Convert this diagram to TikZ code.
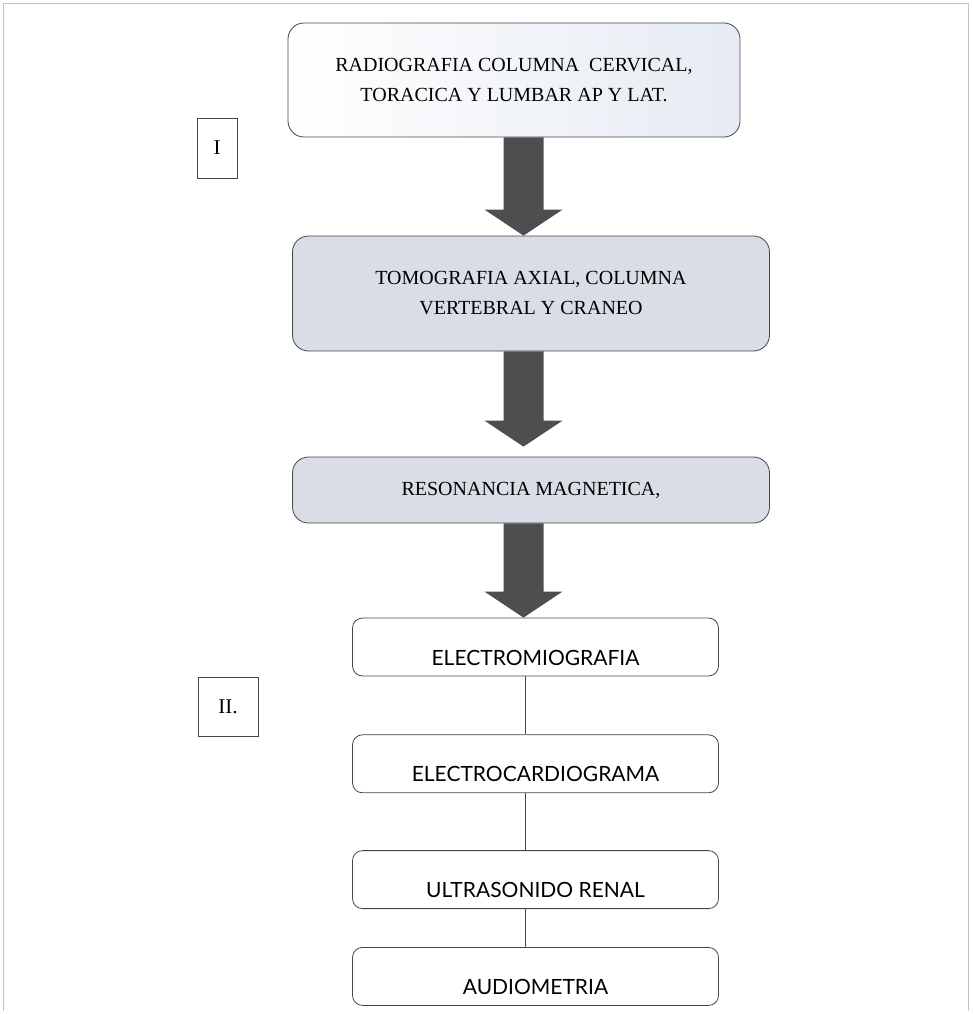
\documentclass[tikz,border=0pt]{standalone}
\usepackage{fontspec}
\setmainfont{Liberation Serif}
\newfontfamily\testfont{Lato}
\usetikzlibrary{calc,positioning}
\definecolor{framegray}{RGB}{195,195,195}
\definecolor{boxgray}{RGB}{216,221,230}
\definecolor{boxblue}{RGB}{230,235,243}
\definecolor{arrowgray}{RGB}{78,78,80}
\definecolor{linegray}{RGB}{70,70,70}

% block arrow from the bottom of #1 down to the top of #2 (tip #3 above it)
\newcommand{\blockarrow}[3]{%
  \coordinate (tip) at ($(#2.north -| ax)+(0,-#3)$);
  \fill[arrowgray] ($(#1.south -| ax)+(-20,0)$) -- ($(tip)+(-20,-26)$) -- ($(tip)+(-39,-26)$)
    -- (tip) -- ($(tip)+(39,-26)$) -- ($(tip)+(20,-26)$) -- ($(#1.south -| ax)+(20,0)$) -- cycle;}

\begin{document}
\begin{tikzpicture}[x=1pt,y=-1pt,
  every node/.style={inner sep=0pt, line width=0.8pt, draw=linegray},
  study/.style={rounded corners=16pt, align=center, font=\fontsize{20}{30}\selectfont},
  test/.style={rounded corners=10pt, minimum width=366pt, text height=47pt, text depth=11pt,
    fill=white, font=\testfont\fontsize{21}{24}\selectfont},
  stage/.style={fill=white, font=\fontsize{21}{24}\selectfont}]
  \useasboundingbox (0,0) rectangle (972,1014);
  \draw[framegray, line width=0.6pt] (3,1011) -- (3,3) -- (968,3) -- (968,1011);

  \coordinate (ax) at (523.5,0);
  \coordinate (lx) at (525,0);

  \node[study, minimum width=452pt, minimum height=114pt, left color=white, right color=boxblue]
    (rx) at (514,80) {RADIOGRAFIA COLUMNA\ \ CERVICAL,\\TORACICA Y LUMBAR AP Y LAT.};
  \node[study, minimum width=477pt, minimum height=115pt, fill=boxgray]
    (tac) at (531,293.5) {TOMOGRAFIA AXIAL, COLUMNA\\VERTEBRAL Y CRANEO};
  \node[study, minimum width=477pt, minimum height=66pt, fill=boxgray]
    (rm) at (531,490) {RESONANCIA MAGNETICA,};

  \node[test] (emg) at (535.5,647) {ELECTROMIOGRAFIA};
  \node[test, below = 58pt of emg] (ecg) {ELECTROCARDIOGRAMA};
  \node[test, below = 57pt of ecg] (usr) {ULTRASONIDO RENAL};
  \node[test, below = 38pt of usr] (aud) {AUDIOMETRIA};

  \node[stage, minimum width=40pt, minimum height=60pt] (s1) at (217,148) {I};
  \node[stage, minimum width=60pt, minimum height=59pt] (s2) at (228,706.5) {II.};

  \blockarrow{rx}{tac}{0}
  \blockarrow{tac}{rm}{10}
  \blockarrow{rm}{emg}{0}

  \draw[linegray, line width=0.8pt] (emg.south -| lx) -- (ecg.north -| lx);
  \draw[linegray, line width=0.8pt] (ecg.south -| lx) -- (usr.north -| lx);
  \draw[linegray, line width=0.8pt] (usr.south -| lx) -- (aud.north -| lx);
\end{tikzpicture}
\end{document}
